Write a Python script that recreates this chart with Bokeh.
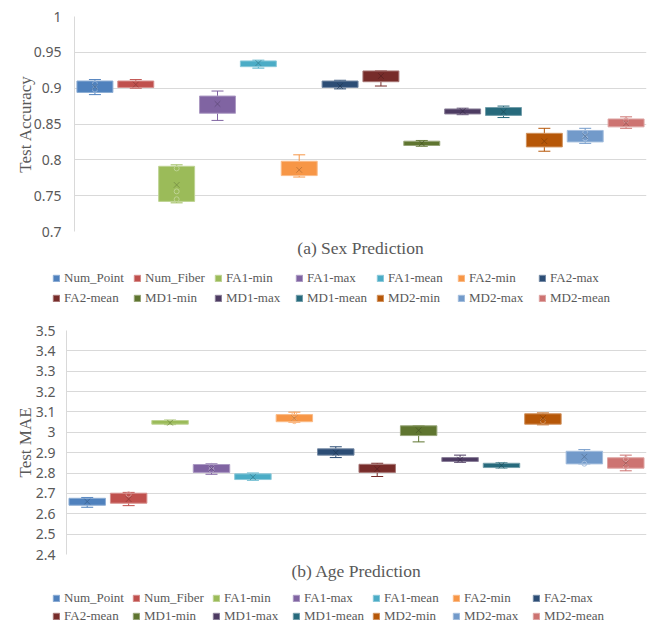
from bokeh.plotting import figure
from bokeh.models import (Range1d, FactorRange, FixedTicker, Legend, LegendItem, Title,
                          ColumnDataSource)
from bokeh.layouts import column, row
from bokeh.embed import file_html
from bokeh.resources import INLINE

# ---------------- data ----------------
categories = ["Num_Point", "Num_Fiber", "FA1-min", "FA1-max", "FA1-mean", "FA2-min", "FA2-max",
              "FA2-mean", "MD1-min", "MD1-max", "MD1-mean", "MD2-min", "MD2-max", "MD2-mean"]
colors = ["#4F81BD", "#C0504D", "#9BBB59", "#8064A2", "#4BACC6", "#F79646", "#2C4D75",
          "#772C2A", "#5F7530", "#4D3B62", "#276A7C", "#B65708", "#729ACA", "#CD7371"]

# (a) Sex Prediction - test accuracy
sex_whisk_lo = [0.891, 0.900, 0.740, 0.855, 0.928, 0.776, 0.899, 0.903, 0.819, 0.863, 0.859, 0.812, 0.823, 0.844]
sex_q1 =       [0.894, 0.901, 0.742, 0.865, 0.930, 0.778, 0.901, 0.909, 0.820, 0.864, 0.862, 0.818, 0.825, 0.846]
sex_median =   [0.901, 0.905, 0.756, 0.880, 0.934, 0.782, 0.904, 0.917, 0.823, 0.868, 0.869, 0.828, 0.839, 0.851]
sex_q3 =       [0.910, 0.910, 0.791, 0.889, 0.938, 0.798, 0.910, 0.924, 0.826, 0.871, 0.873, 0.837, 0.841, 0.857]
sex_whisk_hi = [0.912, 0.912, 0.793, 0.896, 0.939, 0.807, 0.911, 0.924, 0.827, 0.872, 0.875, 0.844, 0.844, 0.860]
sex_mean =     [0.902, 0.905, 0.765, 0.878, 0.935, 0.786, 0.903, 0.917, 0.823, 0.868, 0.867, 0.826, 0.833, 0.851]
sex_point_cat = ["Num_Point", "Num_Point", "FA1-min", "FA1-min", "FA1-min", "MD2-max", "MD2-max",
                 "MD2-mean"]
sex_point_val = [0.906, 0.898, 0.788, 0.756, 0.745, 0.838, 0.830, 0.855]
sex_ticks = [0.7, 0.75, 0.8, 0.85, 0.9, 0.95, 1.0]
sex_tick_labels = ["0.7", "0.75", "0.8", "0.85", "0.9", "0.95", "1"]

# (b) Age Prediction - test MAE
age_whisk_lo = [2.632, 2.640, 3.038, 2.794, 2.765, 3.050, 2.876, 2.783, 2.953, 2.853, 2.825, 3.037, 2.845, 2.811]
age_q1 =       [2.642, 2.652, 3.040, 2.803, 2.768, 3.052, 2.888, 2.803, 2.984, 2.857, 2.827, 3.040, 2.845, 2.824]
age_median =   [2.655, 2.677, 3.048, 2.820, 2.782, 3.065, 2.903, 2.820, 3.010, 2.865, 2.838, 3.065, 2.895, 2.848]
age_q3 =       [2.676, 2.701, 3.058, 2.842, 2.796, 3.087, 2.919, 2.843, 3.032, 2.876, 2.848, 3.091, 2.907, 2.875]
age_whisk_hi = [2.680, 2.705, 3.060, 2.845, 2.800, 3.099, 2.929, 2.848, 3.032, 2.888, 2.850, 3.095, 2.915, 2.888]
age_mean =     [2.660, 2.672, 3.047, 2.822, 2.780, 3.070, 2.900, 2.820, 3.010, 2.866, 2.838, 3.070, 2.880, 2.848]
age_point_cat = ["Num_Fiber", "FA1-max", "FA1-max", "FA2-min", "FA2-min", "MD2-min", "MD2-max",
                 "MD2-mean", "MD2-mean"]
age_point_val = [2.695, 2.835, 2.815, 3.088, 3.055, 3.055, 2.846, 2.868, 2.832]
age_ticks = [2.4, 2.5, 2.6, 2.7, 2.8, 2.9, 3.0, 3.1, 3.2, 3.3, 3.4, 3.5]
age_tick_labels = ["2.4", "2.5", "2.6", "2.7", "2.8", "2.9", "3", "3.1", "3.2", "3.3", "3.4", "3.5"]


def blend(hex_color, other, t):
    h = hex_color.lstrip("#")
    r, g, b = int(h[0:2], 16), int(h[2:4], 16), int(h[4:6], 16)
    o = other
    r = round(r + (o[0] - r) * t)
    g = round(g + (o[1] - g) * t)
    b = round(b + (o[2] - b) * t)
    return "#%02x%02x%02x" % (r, g, b)


light = [blend(c, (255, 255, 255), 0.35) for c in colors]
dark = [blend(c, (0, 0, 0), 0.25) for c in colors]
color_of = dict(zip(categories, light))

SERIF = "Liberation Serif"
GREY = "#595959"
FULL_W = 650


def make_chart(lo, q1, med, q3, hi, mean, pcat, pval, ticks, tick_labels, y0, y1, ylabel, title,
               border_left, frame_h, border_top, border_bottom, tick_standoff,
               label_standoff, title_standoff):
    src = ColumnDataSource(dict(cat=categories, lo=lo, q1=q1, med=med, q3=q3, hi=hi, mean=mean,
                                color=colors, light=light, dark=dark))
    psrc = ColumnDataSource(dict(cat=pcat, val=pval, color=[color_of[c] for c in pcat]))
    p = figure(x_range=FactorRange(factors=categories), y_range=Range1d(y0, y1),
               width=FULL_W, height=border_top + frame_h + border_bottom,
               output_backend="svg", toolbar_location=None, x_axis_location=None,
               min_border_left=border_left, min_border_right=FULL_W - 646, min_border_top=border_top,
               min_border_bottom=border_bottom, background_fill_color="white",
               border_fill_color="white", outline_line_color=None)
    # whiskers
    p.segment(x0="cat", y0="q3", x1="cat", y1="hi", source=src, line_color="color", line_width=1)
    p.segment(x0="cat", y0="q1", x1="cat", y1="lo", source=src, line_color="color", line_width=1)
    p.scatter(x="cat", y="hi", source=src, marker="dash", size=12, line_color="color", line_width=1)
    p.scatter(x="cat", y="lo", source=src, marker="dash", size=12, line_color="color", line_width=1)
    # boxes
    p.vbar(x="cat", bottom="q1", top="q3", width=0.88, source=src, fill_color="color",
           fill_alpha=1.0, line_color="light", line_width=1)
    # median
    p.rect(x="cat", y="med", width=0.88, height=0, source=src, fill_alpha=0,
           line_color="light", line_width=1)
    # inner points
    p.scatter(x="cat", y="val", source=psrc, marker="circle", size=5, fill_alpha=0,
              line_color="color", line_width=1)
    # mean
    p.scatter(x="cat", y="mean", source=src, marker="x", size=8, line_color="dark",
              line_alpha=0.8, line_width=1)

    # axes / grid
    ax = p.yaxis[0]
    ax.ticker = FixedTicker(ticks=ticks)
    ax.major_label_overrides = {t: s for t, s in zip(ticks, tick_labels)}
    ax.major_label_text_font = "Noto Sans"
    ax.major_label_text_font_size = "14px"
    ax.major_label_text_color = GREY
    ax.major_label_standoff = tick_standoff
    ax.major_tick_line_color = None
    ax.minor_tick_line_color = None
    ax.axis_line_color = "#d9d9d9"
    ax.axis_label = ylabel
    ax.axis_label_text_font = SERIF
    ax.axis_label_text_font_size = "17px"
    ax.axis_label_text_font_style = "normal"
    ax.axis_label_text_color = GREY
    ax.axis_label_standoff = label_standoff
    p.xgrid.grid_line_color = None
    p.ygrid.ticker = FixedTicker(ticks=ticks)
    p.ygrid.grid_line_color = "#d9d9d9"
    p.ygrid.grid_line_width = 1

    t = Title(text=title, align="center", text_font=SERIF, text_font_size="17.5px",
              text_font_style="normal", text_color=GREY, standoff=title_standoff)
    p.add_layout(t, "below")
    return p


def make_legend(height, legend_x, legend_y, row_h, gap):
    src = ColumnDataSource(dict(cat=categories, color=colors, light=light,
                                zero=[0] * len(categories)))
    p = figure(x_range=FactorRange(factors=categories), y_range=Range1d(0, 1),
               width=FULL_W, height=height, output_backend="svg", toolbar_location=None,
               x_axis_location=None, y_axis_location=None, min_border_left=0,
               min_border_right=0, min_border_top=0, min_border_bottom=0,
               background_fill_color="white", border_fill_color="white", outline_line_color=None)
    p.grid.grid_line_color = None
    swatch = p.vbar(x="cat", bottom="zero", top="zero", width=0.88, source=src,
                    fill_color="color", line_color="light", line_width=1)
    items = [LegendItem(label=c, renderers=[swatch], index=i) for i, c in enumerate(categories)]
    leg = Legend(items=items, orientation="horizontal", ncols=7, location=(legend_x, legend_y),
                 glyph_width=8, glyph_height=8, label_standoff=4, label_width=66,
                 label_height=row_h, spacing=gap, padding=0, margin=0,
                 border_line_color=None, background_fill_alpha=0,
                 label_text_font=SERIF, label_text_font_size="13px", label_text_color=GREY)
    p.add_layout(leg, "center")
    return p


p1 = make_chart(sex_whisk_lo, sex_q1, sex_median, sex_q3, sex_whisk_hi, sex_mean,
                sex_point_cat, sex_point_val,
                sex_ticks, sex_tick_labels, 0.7, 1.0, "Test Accuracy", "(a) Sex Prediction",
                74, 215, 16, 34, 7, -4, 8)
l1 = make_legend(57, 52, 16, 17, 3)
p2 = make_chart(age_whisk_lo, age_q1, age_median, age_q3, age_whisk_hi, age_mean,
                age_point_cat, age_point_val,
                age_ticks, age_tick_labels, 2.4, 3.5, "Test MAE", "(b) Age Prediction",
                66, 224, 8, 34, 5, -2, 9)
l2 = make_legend(44, 52, 8, 15, 2)

layout = column(row(p1), row(l1), row(p2), row(l2), spacing=0)
open("out.html", "w").write(file_html(layout, INLINE))
